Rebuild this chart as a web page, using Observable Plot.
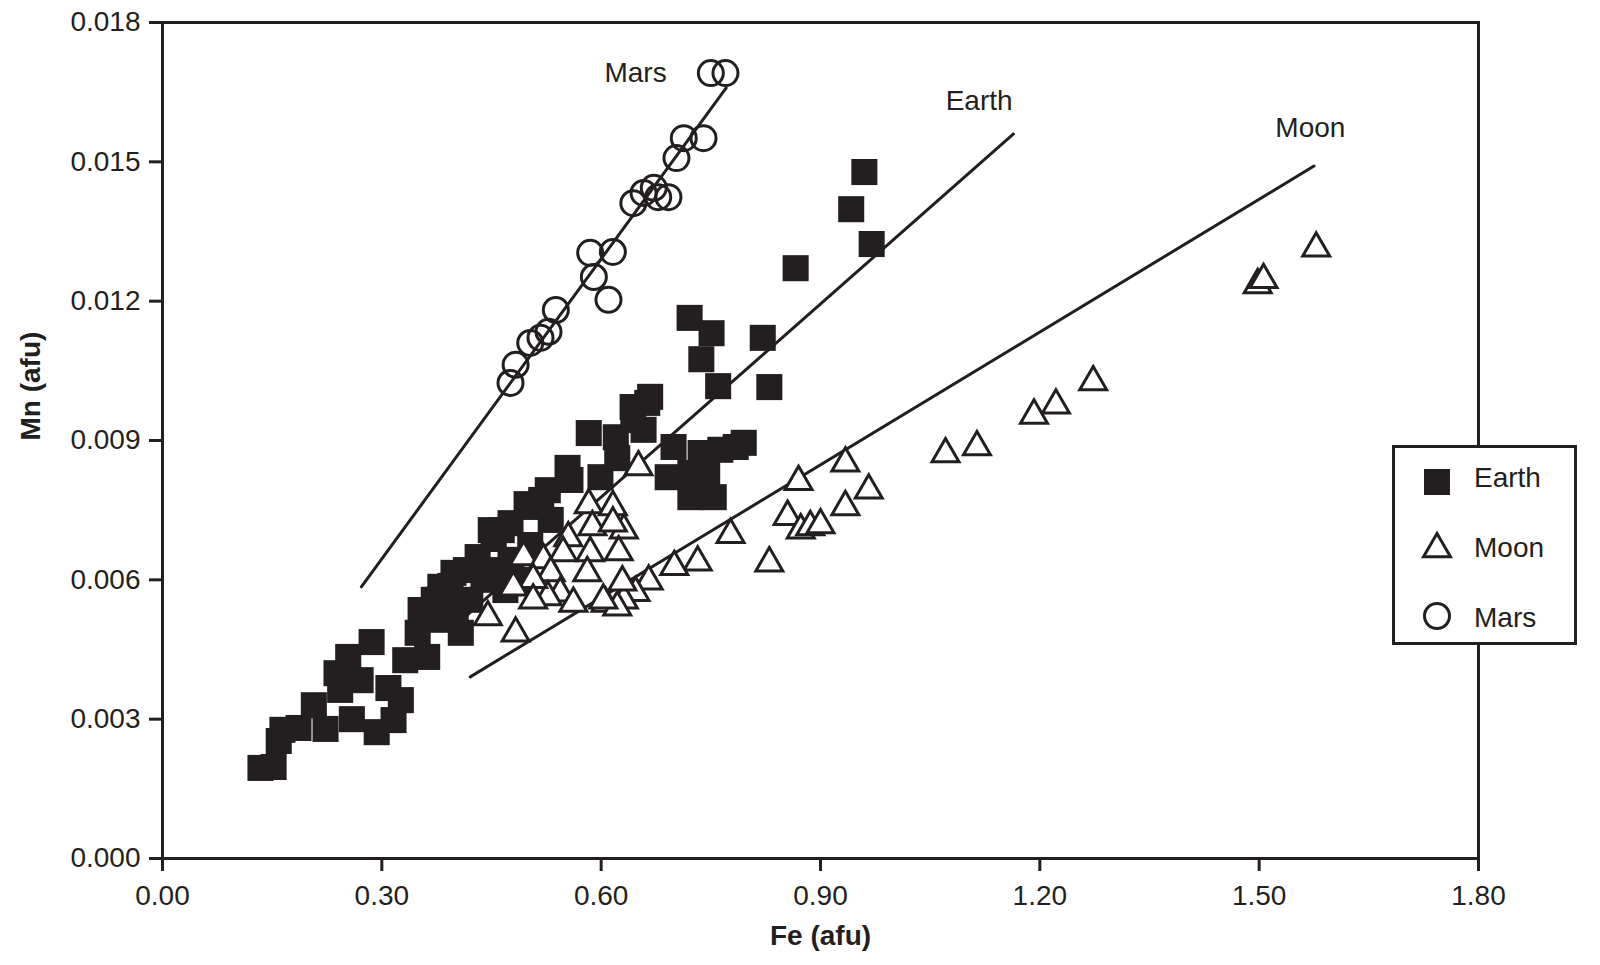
<!DOCTYPE html>
<html>
<head>
<meta charset="utf-8">
<script src="https://cdn.jsdelivr.net/npm/d3@7"></script>
<script src="https://cdn.jsdelivr.net/npm/@observablehq/plot@0.6"></script>
<style>
  body { margin: 0; background: #fff; }
  #wrap { position: relative; width: 1600px; height: 965px; font-family: "Liberation Sans", Arial, sans-serif; }
  #legend { position: absolute; left: 1392px; top: 445px; width: 185px; height: 200px; }
</style>
</head>
<body>
<div id="wrap"></div>
<script>
// ---- Data ----
const seriesNames = ["Earth", "Moon", "Mars"];

const earthFe = [0.134,0.152,0.159,0.164,0.186,0.207,0.223,0.238,0.254,0.286,0.259,0.293,0.316,0.332,0.349,0.362,0.378,0.394,0.408,0.431,0.453,0.464,0.498,0.243,0.271,0.309,0.326,0.380,0.401,0.421,0.439,0.455,0.476,0.469,0.490,0.527,0.558,0.583,0.599,0.620,0.622,0.644,0.658,0.663,0.667,0.643,0.691,0.699,0.722,0.722,0.736,0.754,0.763,0.795,0.745,0.784,0.960,0.942,0.970,0.866,0.721,0.751,0.737,0.821,0.760,0.830,0.499,0.476,0.449,0.554,0.518,0.503,0.531,0.415,0.398,0.380,0.371,0.353];
const earthMn = [0.00195,0.00197,0.00253,0.00277,0.00281,0.00330,0.00279,0.00399,0.00434,0.00466,0.00300,0.00272,0.00298,0.00427,0.00486,0.00434,0.00557,0.00587,0.00486,0.00649,0.00688,0.00707,0.00763,0.00363,0.00384,0.00367,0.00341,0.00514,0.00535,0.00557,0.00600,0.00621,0.00643,0.00578,0.00600,0.00793,0.00815,0.00916,0.00821,0.00907,0.00862,0.00944,0.00923,0.00981,0.00994,0.00972,0.00821,0.00886,0.00830,0.00778,0.00873,0.00778,0.00880,0.00895,0.00832,0.00886,0.01478,0.01398,0.01323,0.01271,0.01164,0.01131,0.01075,0.01121,0.01017,0.01015,0.00757,0.00722,0.00707,0.00841,0.00772,0.00675,0.00729,0.00621,0.00615,0.00585,0.00557,0.00535];

const moonFe = [1.578,1.498,1.506,1.273,1.222,1.192,1.114,1.071,0.934,0.870,0.934,0.966,0.855,0.873,0.886,0.900,0.777,0.830,0.732,0.700,0.665,0.647,0.631,0.606,0.629,0.622,0.651,0.583,0.616,0.588,0.631,0.616,0.624,0.585,0.555,0.548,0.494,0.521,0.531,0.581,0.544,0.527,0.562,0.507,0.480,0.445,0.483,0.603,0.507];
const moonMn = [0.01314,0.01235,0.01246,0.01026,0.00976,0.00954,0.00886,0.00871,0.00851,0.00811,0.00757,0.00793,0.00736,0.00707,0.00714,0.00718,0.00697,0.00636,0.00638,0.00628,0.00597,0.00572,0.00556,0.00549,0.00595,0.00541,0.00843,0.00761,0.00757,0.00714,0.00707,0.00722,0.00660,0.00658,0.00690,0.00658,0.00649,0.00643,0.00615,0.00615,0.00571,0.00563,0.00549,0.00600,0.00584,0.00520,0.00485,0.00556,0.00556];

const marsFe = [0.750,0.770,0.713,0.740,0.703,0.644,0.658,0.672,0.678,0.692,0.585,0.616,0.590,0.610,0.538,0.528,0.517,0.503,0.483,0.476];
const marsMn = [0.01691,0.01691,0.01551,0.01551,0.01508,0.01411,0.01433,0.01444,0.01424,0.01424,0.01304,0.01306,0.01252,0.01203,0.01181,0.01134,0.01121,0.01110,0.01063,0.01024];

// regression lines: [start, end]
const marsLineFe = [0.272, 0.771];
const marsLineMn = [0.00585, 0.01659];
const earthLineFe = [0.400, 1.164];
const earthLineMn = [0.00501, 0.01560];
const moonLineFe = [0.421, 1.575];
const moonLineMn = [0.00391, 0.01491];

// line labels
const labelNames = ["Mars", "Earth", "Moon"];
const labelFe = [0.647, 1.117, 1.570];
const labelMn = [0.01691, 0.01631, 0.01572];

const xTicks = [0, 0.3, 0.6, 0.9, 1.2, 1.5, 1.8];
const xTickLabels = ["0.00", "0.30", "0.60", "0.90", "1.20", "1.50", "1.80"];
const yTicks = [0, 0.003, 0.006, 0.009, 0.012, 0.015, 0.018];
const yTickLabels = ["0.000", "0.003", "0.006", "0.009", "0.012", "0.015", "0.018"];

const xTitle = "Fe (afu)";
const yTitle = "Mn (afu)";

// ---- Build tables ----
const pts = (fe, mn) => fe.map((f, i) => ({Fe: f, Mn: mn[i]}));
const earth = pts(earthFe, earthMn);
const moon = pts(moonFe, moonMn);
const mars = pts(marsFe, marsMn);
const marsLine = pts(marsLineFe, marsLineMn);
const earthLine = pts(earthLineFe, earthLineMn);
const moonLine = pts(moonLineFe, moonLineMn);
const labels = labelNames.map((n, i) => ({name: n, Fe: labelFe[i], Mn: labelMn[i]}));

const ink = "#231f20";
const font = "Liberation Sans, Arial, Helvetica, sans-serif";
const triR = 10;

const chart = Plot.plot({
  width: 1600,
  height: 965,
  marginLeft: 162,
  marginRight: 122,
  marginTop: 22,
  marginBottom: 107,
  x: {domain: [0, 1.8]},
  y: {domain: [0, 0.018]},
  style: {fontFamily: font, fontSize: "28px", color: ink, background: "white"},
  marks: [
    Plot.line(marsLine, {x: "Fe", y: "Mn", stroke: ink, strokeWidth: 3}),
    Plot.line(earthLine, {x: "Fe", y: "Mn", stroke: ink, strokeWidth: 3}),
    Plot.line(moonLine, {x: "Fe", y: "Mn", stroke: ink, strokeWidth: 3}),
    Plot.dot(earth, {x: "Fe", y: "Mn", symbol: "square", r: 14.7, fill: ink, stroke: "none"}),
    Plot.dot(moon, {x: "Fe", y: "Mn", symbol: "triangle", r: triR, fill: "white", stroke: ink, strokeWidth: 3}),
    Plot.dot(mars, {x: "Fe", y: "Mn", symbol: "circle", r: 12.5, fill: "none", stroke: ink, strokeWidth: 3}),
    Plot.text(labels, {x: "Fe", y: "Mn", text: "name", fontSize: 28, fill: ink}),
    Plot.frame({stroke: ink, strokeWidth: 3}),
    Plot.axisX({ticks: xTicks, tickFormat: (d, i) => xTickLabels[i], tickSize: 13, tickPadding: 14, strokeWidth: 3, fontSize: 28, label: null, stroke: ink, fill: ink}),
    Plot.axisY({ticks: yTicks, tickFormat: (d, i) => yTickLabels[i], tickSize: 13, tickPadding: 9, strokeWidth: 3, fontSize: 28, label: null, stroke: ink, fill: ink}),
    Plot.text([xTitle], {frameAnchor: "bottom", dy: 86, fontSize: 28, fontWeight: "bold", fill: ink}),
    Plot.text([yTitle], {frameAnchor: "left", dx: -131, rotate: -90, fontSize: 28, fontWeight: "bold", fill: ink})
  ]
});

const wrap = document.getElementById("wrap");
wrap.appendChild(chart);

// ---- Legend (HTML overlay with inline SVG) ----
const legend = document.createElement("div");
legend.id = "legend";
wrap.appendChild(legend);
const lsvg = d3.select(legend).append("svg").attr("width", 185).attr("height", 200);
lsvg.append("rect").attr("x", 1.5).attr("y", 1.5).attr("width", 182).attr("height", 197)
  .attr("fill", "white").attr("stroke", ink).attr("stroke-width", 3);
const legendSymbols = [d3.symbolSquare, d3.symbolTriangle, d3.symbolCircle];
const legendR = [14.7, triR, 12.5];
const legendSymY = [37, 104, 171];
const legendTxtY = [42, 112, 182];
seriesNames.forEach((name, i) => {
  const size = Math.PI * legendR[i] * legendR[i];
  lsvg.append("path")
    .attr("d", d3.symbol(legendSymbols[i], size)())
    .attr("transform", `translate(45,${legendSymY[i]})`)
    .attr("fill", i === 0 ? ink : "white")
    .attr("stroke", i === 0 ? "none" : ink)
    .attr("stroke-width", 3);
  lsvg.append("text")
    .attr("x", 82).attr("y", legendTxtY[i])
    .attr("font-family", font).attr("font-size", 28).attr("fill", ink)
    .text(name);
});
</script>
</body>
</html>
